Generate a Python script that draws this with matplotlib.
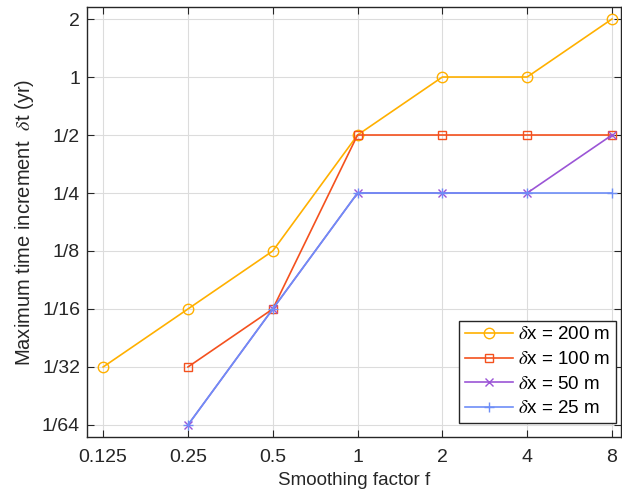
import matplotlib
matplotlib.use("Agg")
import matplotlib.pyplot as plt
import numpy as np

# smoothing factor f and max time increment (yr)
f_200 = [0.125, 0.25, 0.5, 1, 2, 4, 8]
dt_200 = [1/32, 1/16, 1/8, 1/2, 1, 1, 2]
f_100 = [0.25, 0.5, 1, 2, 4, 8]
dt_100 = [1/32, 1/16, 1/2, 1/2, 1/2, 1/2]
f_50 = [0.25, 0.5, 1, 2, 4, 8]
dt_50 = [1/64, 1/16, 1/4, 1/4, 1/4, 1/2]
f_25 = [0.25, 0.5, 1, 2, 4, 8]
dt_25 = [1/64, 1/16, 1/4, 1/4, 1/4, 1/4]

xticks = [0.125, 0.25, 0.5, 1, 2, 4, 8]
xticklabels = ["0.125", "0.25", "0.5", "1", "2", "4", "8"]
yticks = [1/64, 1/32, 1/16, 1/8, 1/4, 1/2, 1, 2]
yticklabels = ["1/64", "1/32", "1/16", "1/8", "1/4", "1/2", "1", "2"]

plt.rcParams['font.family'] = ['Liberation Sans', 'DejaVu Sans']
plt.rcParams['mathtext.fontset'] = 'stix'

fig = plt.figure(figsize=(6.22, 4.93), dpi=100)
ax = fig.add_axes([87/622, 56/493, 534/622, 430/493])

ax.plot(f_200, dt_200, color="#FFB000", marker="o", mfc="none", ms=7.5, lw=1.2, label=r"$\delta$x = 200 m")
ax.plot(f_100, dt_100, color="#F4511E", marker="s", mfc="none", ms=6, lw=1.2, label=r"$\delta$x = 100 m")
ax.plot(f_50, dt_50, color="#9B55D6", marker="x", ms=5.5, lw=1.2, label=r"$\delta$x = 50 m")
ax.plot(f_25, dt_25, color="#6E8EF7", marker="+", ms=7, lw=1.2, label=r"$\delta$x = 25 m")

ax.set_xscale("log", base=2)
ax.set_yscale("log", base=2)
ax.set_xlim(2**(-3.19), 2**(3.106))
ax.set_ylim(2**(-6.207), 2**(1.207))
ax.set_xticks(xticks)
ax.set_xticklabels(xticklabels)
ax.set_yticks(yticks)
ax.set_yticklabels(yticklabels)
ax.minorticks_off()
ax.tick_params(direction="in", top=True, right=True, labelsize=14, length=5, colors="#262626")
ax.tick_params(axis="x", pad=9)
ax.tick_params(axis="y", pad=5)
ax.grid(True, color="#dcdcdc", lw=0.8)
ax.set_axisbelow(True)
for s in ax.spines.values():
    s.set_color("#262626")
    s.set_linewidth(1.0)

ax.set_xlabel("Smoothing factor f", fontsize=13.5, color="#262626", labelpad=4)
ax.set_ylabel(r"Maximum time increment  $\delta$t (yr)", fontsize=14.5, color="#262626", labelpad=4)

leg = ax.legend(loc="lower right", bbox_to_anchor=(0.9906, 0.0326), borderaxespad=0,
                fontsize=13.5, fancybox=False, framealpha=1,
                edgecolor="#262626", handlelength=2.6, borderpad=0.3, labelspacing=0.4,
                handletextpad=0.25)
leg.get_frame().set_linewidth(1.0)

fig.savefig("out.png", dpi=100)
